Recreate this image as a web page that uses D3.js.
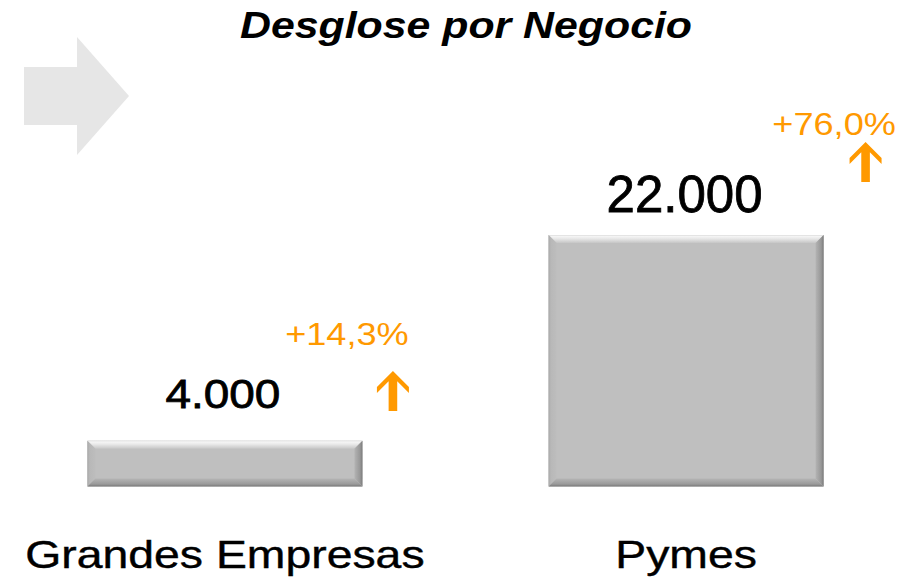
<!DOCTYPE html>
<html>
<head>
<meta charset="utf-8">
<script src="https://cdn.jsdelivr.net/npm/d3@7"></script>
<style>
  html, body { margin: 0; padding: 0; background: #fff; }
  svg { display: block; }
  text { font-family: "Liberation Sans", Arial, sans-serif; }
</style>
</head>
<body>
<div id="chart"></div>
<script>
// ---- data ----
const title = "Desglose por Negocio";
const categories = ["Grandes Empresas", "Pymes"];
const values = [4000, 22000];
const valueLabels = ["4.000", "22.000"];
const growthLabels = ["+14,3%", "+76,0%"];

// ---- layout (not data) ----
const W = 917, H = 582;
const valueFont = [41, 51], valueSx = [1.12, 1.0], valueGap = [33, 23], valueDx = [-2, -1.5];
const growthDx = [122, 148], growthY = [345, 135];
const arrowDx = [168, 179.5], arrowTop = [371, 142];

const svg = d3.select("#chart").append("svg").attr("width", W).attr("height", H);
const defs = svg.append("defs");

const x = d3.scaleBand().domain(categories).range([-3, 914]).paddingInner(0.4035).paddingOuter(0.196);
const y = d3.scaleLinear().domain([0, 22000]).range([486.5, 235]);

function grad(id, x1, y1, x2, y2, stops) {
  const g = defs.append("linearGradient").attr("id", id)
    .attr("x1", x1).attr("y1", y1).attr("x2", x2).attr("y2", y2);
  stops.forEach(s => g.append("stop").attr("offset", s[0]).attr("stop-color", s[1]));
}
grad("gTop", 0, 0, 0, 1, [[0, "#cfcfcf"], [0.12, "#f7f7f7"], [0.45, "#e8e8e8"], [1, "#c6c6c6"]]);
grad("gLeft", 0, 0, 1, 0, [[0, "#a9a9a9"], [0.3, "#b8b8b8"], [1, "#bdbdbd"]]);
grad("gRight", 1, 0, 0, 0, [[0, "#7a7a7a"], [0.3, "#979797"], [1, "#b3b3b3"]]);
grad("gBot", 0, 1, 0, 0, [[0, "#787878"], [0.3, "#9a9a9a"], [1, "#b5b5b5"]]);

// big grey arrow
svg.append("path")
  .attr("d", d3.line()([[24, 67], [77, 67], [77, 37], [129, 96], [77, 155], [77, 125], [24, 125]]) + "Z")
  .attr("fill", "#e6e6e6");

// title
svg.append("text").attr("transform", `translate(466,38) scale(1.19,1)`)
  .attr("text-anchor", "middle").attr("font-size", 36).attr("font-weight", "bold")
  .attr("font-style", "italic").attr("fill", "#000").text(title);

const b = 8;
categories.forEach((c, i) => {
  const x0 = x(c), x1 = x(c) + x.bandwidth(), y0 = y(values[i]), y1 = y(0);
  const cx = x(c) + x.bandwidth() / 2;
  const g = svg.append("g");
  g.append("rect").attr("x", x0).attr("y", y0).attr("width", x1 - x0).attr("height", y1 - y0).attr("fill", "#bfbfbf");
  const poly = (pts, f) => g.append("path").attr("d", d3.line()(pts) + "Z").attr("fill", f);
  poly([[x0, y0], [x1, y0], [x1 - b, y0 + b], [x0 + b, y0 + b]], "url(#gTop)");
  poly([[x0, y0], [x0 + b, y0 + b], [x0 + b, y1 - b], [x0, y1]], "url(#gLeft)");
  poly([[x1, y0], [x1, y1], [x1 - b, y1 - b], [x1 - b, y0 + b]], "url(#gRight)");
  poly([[x0, y1], [x1, y1], [x1 - b, y1 - b], [x0 + b, y1 - b]], "url(#gBot)");

  // value label
  svg.append("text").attr("transform", `translate(${cx + valueDx[i]},${y0 - valueGap[i]}) scale(${valueSx[i]},1)`)
    .attr("text-anchor", "middle").attr("font-size", valueFont[i]).attr("fill", "#000")
    .attr("stroke", "#000").attr("stroke-width", 0.8).text(valueLabels[i]);

  // growth label
  svg.append("text").attr("transform", `translate(${cx + growthDx[i]},${growthY[i]}) scale(1.13,1)`)
    .attr("text-anchor", "middle").attr("font-size", 32).attr("fill", "#ff9900").text(growthLabels[i]);

  // orange arrow
  const ax = cx + arrowDx[i], at = arrowTop[i];
  svg.append("path").attr("fill", "#ff9900")
    .attr("d", d3.line()([[ax, at], [ax + 16, at + 16], [ax + 16, at + 22], [ax + 4.3, at + 10.3], [ax + 4.3, at + 40],
      [ax - 4.3, at + 40], [ax - 4.3, at + 10.3], [ax - 16, at + 22], [ax - 16, at + 16]]) + "Z");

  // category label
  svg.append("text").attr("transform", `translate(${cx},568) scale(1.22,1)`)
    .attr("text-anchor", "middle").attr("font-size", 38).attr("fill", "#000")
    .attr("stroke", "#000").attr("stroke-width", 0.4).text(c);
});
</script>
</body>
</html>
